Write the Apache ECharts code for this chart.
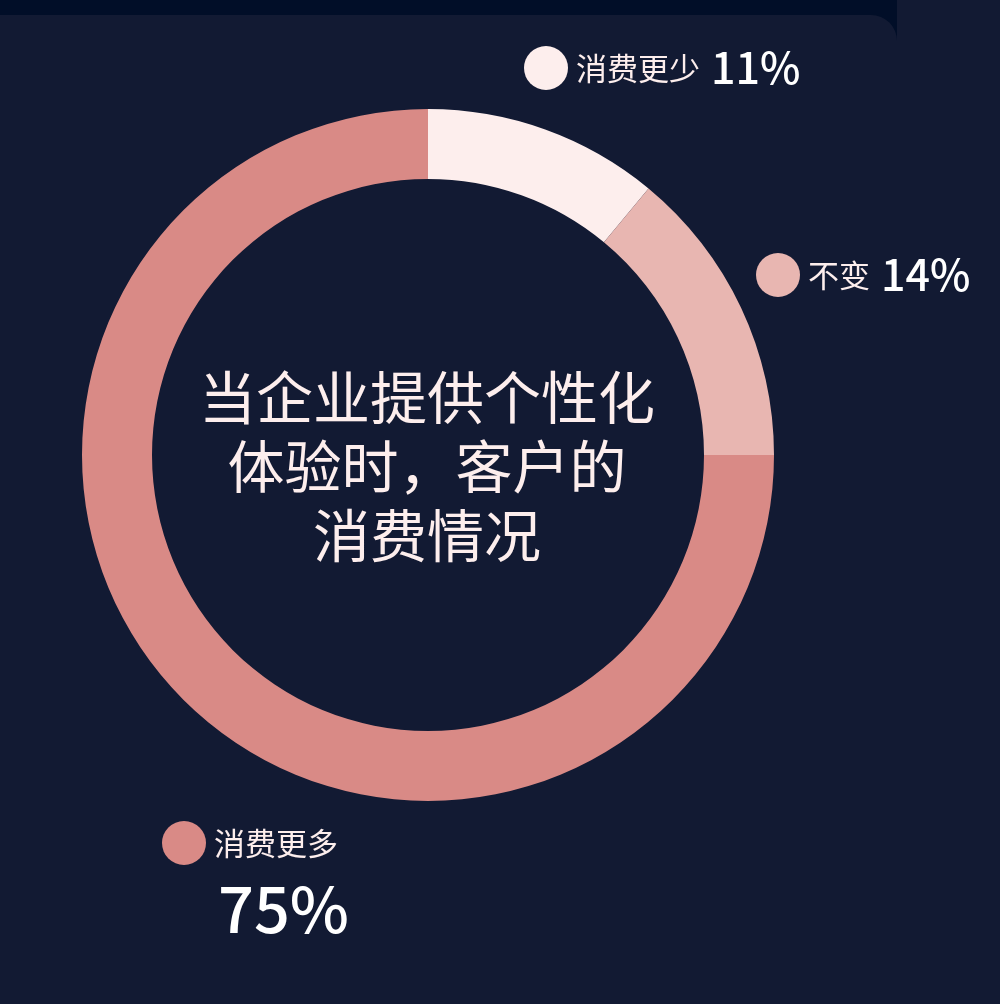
<!DOCTYPE html>
<html lang="zh">
<head>
    <meta charset="UTF-8">
    <title>个性化体验与消费情况</title>
    <script src="https://cdn.jsdelivr.net/npm/echarts@6/dist/echarts.min.js"></script>
    <style>
        html, body { margin: 0; padding: 0; background: #121a33; }
        #chart { width: 1000px; height: 1004px; }
    </style>
</head>
<body>
    <div id="chart"></div>
    <script>
        // 数据
        var categories = ['消费更少', '不变', '消费更多'];
        var values = [11, 14, 75];
        var centerLines = ['当企业提供个性化', '体验时，客户的', '消费情况'];

        // 样式 / 位置
        var colors = ['#fdeeed', '#e8b6b1', '#d98a86'];
        var labelSpots = [[524, 46], [756, 253], [162, 821]];  // 标签左上角
        var twoLine = [false, false, true];

        var font = '"Noto Sans CJK SC", "Noto Sans", sans-serif';
        var chart = echarts.init(document.getElementById('chart'));

        var rich = {
            name: { fontSize: 31, color: '#fdeeed', fontFamily: font, lineHeight: 44, padding: [0, 0, 0, 8] },
            val: { fontSize: 43, fontWeight: 500, color: '#ffffff', fontFamily: font, lineHeight: 44, padding: [0, 0, 0, 11] },
            big: { fontSize: 63, fontWeight: 500, color: '#ffffff', fontFamily: font, lineHeight: 88, padding: [0, 0, 0, 56] }
        };
        colors.forEach(function (c, i) {
            rich['dot' + i] = { width: 44, height: 44, borderRadius: 22, backgroundColor: c };
        });

        var pieData = categories.map(function (name, i) {
            return { name: name, value: values[i], itemStyle: { color: colors[i] } };
        });

        chart.setOption({
            backgroundColor: '#121a33',
            animation: false,
            graphic: [
                { type: 'rect', z: -10, silent: true, shape: { x: 0, y: 0, width: 897, height: 40 }, style: { fill: '#010e28' } },
                { type: 'rect', z: -9, silent: true, shape: { x: -30, y: 15, width: 927, height: 1100, r: [0, 26, 0, 0] }, style: { fill: '#121a33' } },
                {
                    type: 'text', x: 427, y: 466,
                    style: {
                        text: centerLines.join('\n'),
                        fill: '#fdeeed',
                        font: '57px ' + font,
                        lineHeight: 69,
                        align: 'center',
                        verticalAlign: 'middle'
                    }
                }
            ],
            series: [{
                type: 'pie',
                center: [428, 455],
                radius: [276, 346],
                startAngle: 90,
                clockwise: true,
                avoidLabelOverlap: false,
                data: pieData,
                itemStyle: { borderWidth: 0 },
                labelLine: { show: false },
                label: {
                    show: true,
                    position: 'outside',
                    rich: rich,
                    formatter: function (p) {
                        var i = p.dataIndex;
                        if (twoLine[i]) {
                            return '{dot' + i + '|}{name|' + p.name + '}\n{big|' + p.value + '%}';
                        }
                        return '{dot' + i + '|}{name|' + p.name + '}{val|' + p.value + '%}';
                    }
                },
                labelLayout: function (params) {
                    var s = labelSpots[params.dataIndex];
                    return { x: s[0], y: s[1], align: 'left', verticalAlign: 'top' };
                }
            }]
        });
    </script>
</body>
</html>
